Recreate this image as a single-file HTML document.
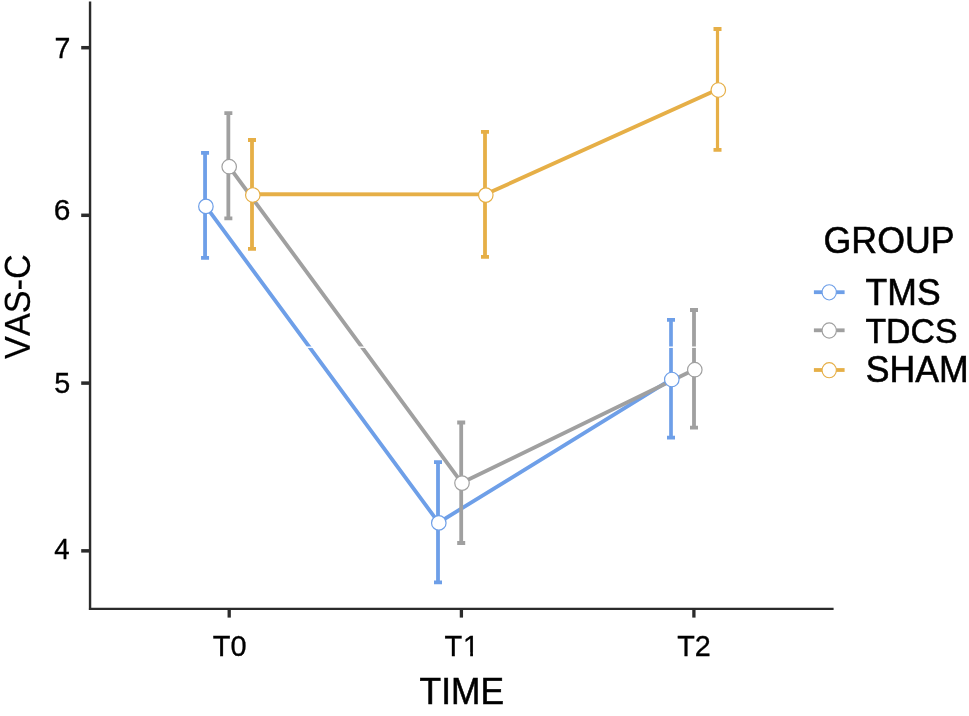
<!DOCTYPE html>
<html><head><meta charset="utf-8"><title>VAS-C by TIME and GROUP</title>
<style>
html,body{margin:0;padding:0;background:#fff;}
body{width:969px;height:716px;overflow:hidden;}
svg{display:block;}
text{font-family:"Liberation Sans",Arial,Helvetica,sans-serif;fill:#000;stroke:#000;}
.tick{font-size:29px;stroke-width:0.35px;}
.ttl{font-size:36px;stroke-width:0.55px;}
.ytl{stroke-width:0.2px;font-kerning:none;}
</style></head><body>
<svg width="969" height="716" viewBox="0 0 969 716">
<rect width="969" height="716" fill="#fff"/>

<g fill="none" stroke-linejoin="round" stroke-linecap="butt">
<polyline points="205.7,206.1 438.6,522.6 671.6,379.2" stroke="#6E9FE8" stroke-width="3.85"/>
<polyline points="228.9,166.3 461.8,482.8 694.6,369.4" stroke="#A0A0A0" stroke-width="3.85"/>
<polyline points="252.6,194.2 485.6,194.3 718.1,89.2" stroke="#E6AF47" stroke-width="3.85"/>
</g>
<g fill="none">
<path d="M201.05 152.90H209.05M201.05 257.90H209.05" stroke="#6E9FE8" stroke-width="3.8"/>
<path d="M205.05 152.90V257.90" stroke="#6E9FE8" stroke-width="3.8"/>
<path d="M434.00 462.05H442.00M434.00 582.40H442.00" stroke="#6E9FE8" stroke-width="3.8"/>
<path d="M438.00 462.05V582.40" stroke="#6E9FE8" stroke-width="3.8"/>
<path d="M667.00 319.80H675.00M667.00 437.55H675.00" stroke="#6E9FE8" stroke-width="3.8"/>
<path d="M671.00 319.80V437.55" stroke="#6E9FE8" stroke-width="3.7"/>
<path d="M224.35 113.20H232.35M224.35 218.45H232.35" stroke="#A0A0A0" stroke-width="3.8"/>
<path d="M228.35 113.20V218.45" stroke="#A0A0A0" stroke-width="3.8"/>
<path d="M457.20 422.50H465.20M457.20 543.00H465.20" stroke="#A0A0A0" stroke-width="3.8"/>
<path d="M461.20 422.50V543.00" stroke="#A0A0A0" stroke-width="3.8"/>
<path d="M690.00 310.00H698.00M690.00 427.55H698.00" stroke="#A0A0A0" stroke-width="3.8"/>
<path d="M694.00 310.00V427.55" stroke="#A0A0A0" stroke-width="3.8"/>
<path d="M248.00 140.00H256.00M248.00 248.85H256.00" stroke="#E6AF47" stroke-width="3.8"/>
<path d="M252.00 140.00V248.85" stroke="#E6AF47" stroke-width="3.8"/>
<path d="M481.00 131.90H489.00M481.00 256.85H489.00" stroke="#E6AF47" stroke-width="3.8"/>
<path d="M485.00 131.90V256.85" stroke="#E6AF47" stroke-width="3.8"/>
<path d="M713.50 29.00H721.50M713.50 149.80H721.50" stroke="#E6AF47" stroke-width="3.8"/>
<path d="M717.50 29.00V149.80" stroke="#E6AF47" stroke-width="3.2"/>
</g>
<rect x="92" y="346.5" width="740" height="1.4" fill="#fff"/>
<g fill="#fff">
<circle cx="205.9" cy="206.4" r="7.25" stroke="#6E9FE8" stroke-width="1.2"/>
<circle cx="438.8" cy="522.9" r="7.25" stroke="#6E9FE8" stroke-width="1.2"/>
<circle cx="671.8" cy="379.5" r="7.25" stroke="#6E9FE8" stroke-width="1.2"/>
<circle cx="229.2" cy="166.7" r="7.25" stroke="#A0A0A0" stroke-width="1.2"/>
<circle cx="462.0" cy="483.1" r="7.25" stroke="#A0A0A0" stroke-width="1.2"/>
<circle cx="694.8" cy="369.7" r="7.25" stroke="#A0A0A0" stroke-width="1.2"/>
<circle cx="252.8" cy="195.0" r="7.25" stroke="#E6AF47" stroke-width="1.2"/>
<circle cx="485.8" cy="195.1" r="7.25" stroke="#E6AF47" stroke-width="1.2"/>
<circle cx="718.3" cy="90.0" r="7.25" stroke="#E6AF47" stroke-width="1.2"/>
</g>
<g stroke="#2b2b2b" fill="none">
<path d="M90.05 1.5V609.95" stroke-width="2.4"/>
<path d="M88.95 608.8H833.6" stroke-width="2.35"/>
<path d="M81.2 47.7H90" stroke-width="3.5"/>
<path d="M81.2 215.3H90" stroke-width="3.5"/>
<path d="M81.2 383.1H90" stroke-width="3.5"/>
<path d="M81.2 550.85H90" stroke-width="3.5"/>
<path d="M229.2 608.8V617.6" stroke-width="3.3"/>
<path d="M461.4 608.8V617.6" stroke-width="3.3"/>
<path d="M693.9 608.8V617.6" stroke-width="3.3"/>
</g>
<text class="tick" transform="translate(54.57 57.98) scale(0.9835 0.9975)">7</text>
<text class="tick" transform="translate(53.81 219.90) scale(1.0327 1.0060)">6</text>
<text class="tick" transform="translate(54.31 392.90) scale(0.9912 0.9939)">5</text>
<text class="tick" transform="translate(54.32 558.87) scale(0.9533 1.0222)">4</text>
<text class="tick" transform="translate(212.80 656.00) scale(0.9977 0.9916)">T0</text>
<text class="tick" dx="0 0.8" transform="translate(444.50 655.77) scale(1.0000 1.0074)">T1</text>
<text class="tick" transform="translate(677.30 655.97) scale(0.9906 1.0146)">T2</text>
<path d="M462 652.3H470.2V657.5H462ZM472.95 652.3H479V657.5H472.95Z" fill="#fff"/>
<text class="ttl" transform="translate(419.61 703.74) scale(0.9816 1.0218)">TIME</text>
<text class="ttl ytl" transform="translate(29.8 358.90) rotate(-89.97) scale(0.9517 1)">VAS-C</text>
<text class="ttl" transform="translate(823.51 252.95) scale(0.9932 1.0462)">GROUP</text>
<path d="M813.9 292.2H844.6" stroke="#6E9FE8" stroke-width="3.8"/>
<ellipse cx="829.2" cy="292.35" rx="7.15" ry="7.6" fill="#fff" stroke="#6E9FE8" stroke-width="1.15"/>
<text class="ttl" transform="translate(865.61 304.66) scale(0.9875 1.0308)">TMS</text>
<path d="M813.9 330.3H844.6" stroke="#A0A0A0" stroke-width="3.8"/>
<ellipse cx="829.2" cy="330.45" rx="7.15" ry="7.6" fill="#fff" stroke="#A0A0A0" stroke-width="1.15"/>
<text class="ttl" transform="translate(865.43 342.88) scale(0.9394 0.9885)">TDCS</text>
<path d="M813.9 370.0H844.6" stroke="#E6AF47" stroke-width="3.8"/>
<ellipse cx="829.2" cy="370.15" rx="7.15" ry="7.6" fill="#fff" stroke="#E6AF47" stroke-width="1.15"/>
<text class="ttl" transform="translate(865.64 381.86) scale(0.9900 1.0269)">SHAM</text>
</svg>
</body></html>
